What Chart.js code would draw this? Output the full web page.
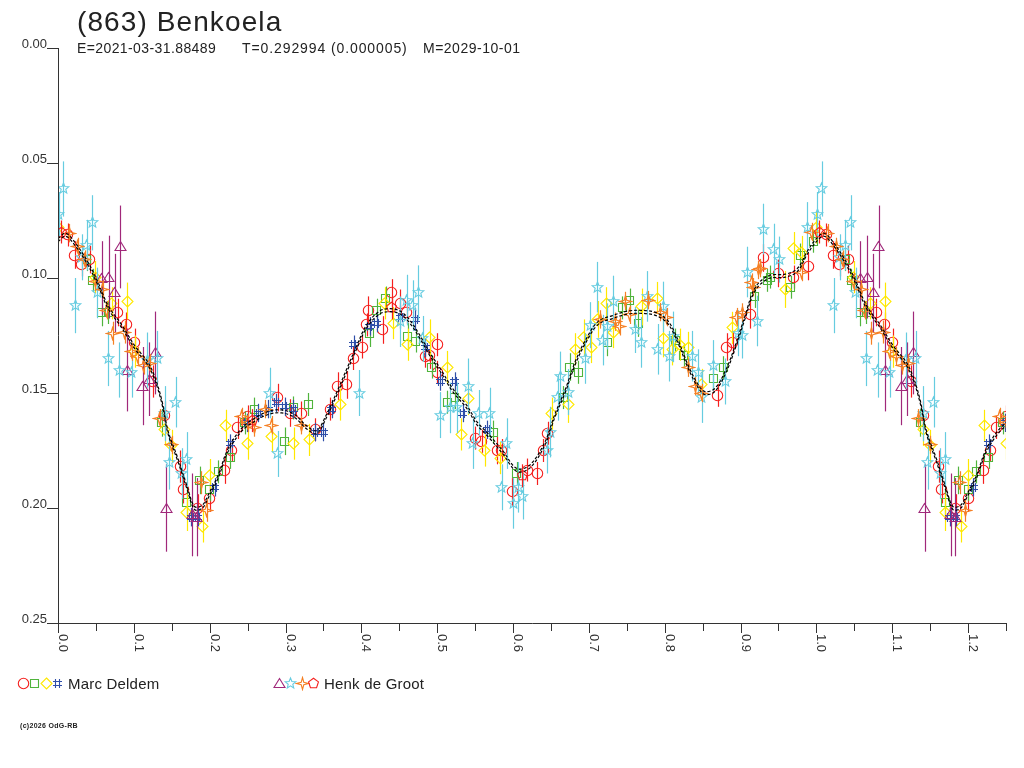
<!DOCTYPE html>
<html>
<head>
<meta charset="utf-8">
<title>(863) Benkoela</title>
<script src="https://cdn.jsdelivr.net/npm/chart.js@4.4.1/dist/chart.umd.min.js"></script>
<style>
  html, body { margin: 0; padding: 0; background: #fff; }
  canvas { display: block; }
</style>
</head>
<body>
<canvas id="chart" width="1024" height="768"></canvas>
<script>
// phase / reduced magnitude / error
const circPhase = [0.013,0.022,0.031,0.042,0.079,0.090,0.101,0.125,0.141,0.161,0.165,0.184,0.200,0.220,0.229,0.237,0.250,0.290,0.306,0.321,0.339,0.359,0.369,0.381,0.389,0.401,0.407,0.409,0.428,0.440,0.451,0.460,0.484,0.490,0.500,0.500,0.550,0.559,0.579,0.585,0.599,0.619,0.632,0.640,0.646,0.870,0.882,0.890,0.913,0.930,0.950,0.970,0.989];
const circMag   = [0.0813,0.090,0.0943,0.092,0.115,0.120,0.128,0.145,0.1596,0.182,0.192,0.200,0.1957,0.1835,0.175,0.165,0.1604,0.152,0.1587,0.1587,0.166,0.157,0.147,0.1465,0.135,0.130,0.1204,0.114,0.1226,0.1065,0.111,0.115,0.134,0.1335,0.129,0.141,0.1696,0.171,0.175,0.175,0.193,0.1835,0.185,0.175,0.1675,0.151,0.130,0.128,0.116,0.0913,0.098,0.0996,0.095];
const circErr   = [0.005,0.006,0.005,0.006,0.006,0.005,0.006,0.007,0.006,0.007,0.006,0.006,0.006,0.006,0.005,0.005,0.005,0.006,0.006,0.005,0.005,0.005,0.006,0.006,0.005,0.005,0.005,0.006,0.006,0.006,0.006,0.005,0.005,0.006,0.005,0.005,0.005,0.005,0.006,0.005,0.006,0.005,0.005,0.005,0.005,0.005,0.006,0.005,0.006,0.006,0.006,0.005,0.006];

const sqPhase = [0.038,0.046,0.058,0.066,0.137,0.170,0.187,0.200,0.211,0.227,0.246,0.259,0.299,0.310,0.330,0.411,0.420,0.432,0.461,0.472,0.493,0.513,0.523,0.574,0.605,0.666,0.675,0.686,0.724,0.744,0.754,0.765,0.814,0.825,0.864,0.877,0.919,0.935,0.939,0.966,0.979,0.996];
const sqMag   = [0.092,0.101,0.115,0.115,0.163,0.1974,0.188,0.192,0.1843,0.178,0.163,0.157,0.171,0.1565,0.155,0.124,0.114,0.1087,0.1256,0.1274,0.1387,0.154,0.152,0.167,0.185,0.152,0.1387,0.141,0.128,0.113,0.1096,0.1196,0.127,0.1335,0.1435,0.139,0.108,0.101,0.0996,0.104,0.090,0.084];
const sqErr   = [0.005,0.005,0.006,0.005,0.006,0.006,0.006,0.005,0.005,0.005,0.005,0.005,0.006,0.005,0.005,0.006,0.005,0.005,0.006,0.005,0.005,0.005,0.005,0.005,0.005,0.005,0.006,0.005,0.006,0.005,0.005,0.006,0.005,0.005,0.005,0.005,0.005,0.005,0.005,0.005,0.005,0.005];

const diaPhase = [0.000,0.049,0.071,0.091,0.101,0.141,0.150,0.170,0.191,0.200,0.221,0.250,0.282,0.311,0.331,0.372,0.431,0.442,0.461,0.490,0.513,0.532,0.541,0.563,0.583,0.651,0.673,0.682,0.693,0.703,0.712,0.723,0.732,0.770,0.790,0.798,0.810,0.820,0.831,0.849,0.889,0.959,0.970,0.981];
const diaMag   = [0.078,0.0996,0.111,0.110,0.132,0.166,0.173,0.202,0.208,0.1857,0.1643,0.172,0.1687,0.172,0.1704,0.155,0.111,0.1196,0.129,0.126,0.1387,0.168,0.1526,0.175,0.1783,0.159,0.155,0.131,0.126,0.130,0.118,0.111,0.1235,0.1126,0.1087,0.1265,0.131,0.129,0.1304,0.1465,0.1217,0.105,0.087,0.0887];
const diaErr   = [0.007,0.007,0.007,0.008,0.007,0.007,0.007,0.008,0.007,0.007,0.007,0.007,0.007,0.007,0.007,0.007,0.007,0.007,0.007,0.008,0.007,0.007,0.007,0.007,0.007,0.007,0.008,0.007,0.008,0.007,0.008,0.007,0.007,0.008,0.007,0.008,0.007,0.007,0.007,0.007,0.007,0.008,0.007,0.007];

const hashPhase = [0.176,0.184,0.207,0.227,0.249,0.264,0.277,0.288,0.299,0.310,0.339,0.350,0.361,0.390,0.411,0.420,0.451,0.471,0.484,0.504,0.523,0.534,0.566];
const hashMag   = [0.204,0.204,0.191,0.172,0.163,0.1587,0.157,0.1543,0.156,0.157,0.167,0.167,0.157,0.129,0.121,0.1196,0.117,0.118,0.1304,0.145,0.145,0.1587,0.166];
const hashErr   = [0.004,0.004,0.004,0.004,0.004,0.004,0.004,0.004,0.004,0.004,0.004,0.004,0.004,0.004,0.004,0.004,0.005,0.005,0.004,0.004,0.004,0.004,0.004];

const triPhase = [0.058,0.067,0.075,0.082,0.091,0.112,0.120,0.128,0.143,0.177,0.183];
const triMag   = [0.100,0.0996,0.1065,0.0865,0.140,0.147,0.144,0.1326,0.200,0.203,0.204];
const triErr   = [0.016,0.018,0.017,0.018,0.018,0.017,0.016,0.018,0.019,0.018,0.017];

const starPhase = [0.001,0.007,0.023,0.031,0.038,0.045,0.052,0.066,0.081,0.097,0.118,0.131,0.141,0.147,0.155,0.163,0.170,0.279,0.290,0.397,0.451,0.460,0.468,0.475,0.481,0.504,0.517,0.526,0.541,0.547,0.555,0.569,0.585,0.592,0.600,0.607,0.613,0.645,0.649,0.659,0.662,0.673,0.695,0.702,0.711,0.718,0.724,0.732,0.761,0.769,0.777,0.791,0.798,0.806,0.811,0.836,0.844,0.849,0.864,0.880,0.897,0.902,0.909,0.922,0.930,0.944,0.951,0.988];
const starMag   = [0.0726,0.0613,0.112,0.091,0.0857,0.076,0.1065,0.135,0.140,0.141,0.1357,0.135,0.159,0.180,0.154,0.185,0.179,0.150,0.1765,0.150,0.119,0.1096,0.112,0.1065,0.1265,0.1596,0.1565,0.1565,0.147,0.172,0.1587,0.1587,0.191,0.172,0.198,0.191,0.195,0.175,0.167,0.152,0.143,0.1496,0.135,0.1205,0.104,0.127,0.121,0.110,0.1226,0.128,0.108,0.131,0.1126,0.134,0.1256,0.134,0.141,0.152,0.138,0.145,0.124,0.125,0.0974,0.1187,0.0787,0.0874,0.092,0.078];
const starErr   = [0.010,0.012,0.012,0.010,0.011,0.012,0.011,0.012,0.012,0.011,0.012,0.012,0.012,0.012,0.011,0.011,0.012,0.011,0.010,0.010,0.011,0.011,0.011,0.012,0.010,0.010,0.011,0.011,0.012,0.011,0.010,0.011,0.010,0.011,0.011,0.011,0.010,0.010,0.011,0.010,0.011,0.010,0.011,0.010,0.011,0.011,0.010,0.011,0.010,0.011,0.011,0.011,0.011,0.011,0.011,0.011,0.010,0.011,0.011,0.010,0.010,0.010,0.011,0.011,0.011,0.011,0.010,0.011];

const crossPhase = [0.015,0.026,0.035,0.049,0.059,0.064,0.072,0.088,0.097,0.105,0.113,0.121,0.134,0.150,0.189,0.196,0.242,0.250,0.259,0.273,0.282,0.321,0.715,0.735,0.741,0.748,0.754,0.778,0.794,0.803,0.831,0.840,0.849,0.895,0.902,0.915,0.917,0.923,0.926,0.981,0.994];
const crossMag   = [0.0805,0.0865,0.092,0.1017,0.105,0.114,0.124,0.1235,0.132,0.134,0.138,0.137,0.161,0.1726,0.189,0.201,0.1604,0.163,0.165,0.157,0.164,0.164,0.118,0.119,0.121,0.110,0.116,0.1096,0.1148,0.117,0.139,0.147,0.150,0.117,0.115,0.102,0.104,0.0965,0.0957,0.0974,0.080];
const crossErr   = [0.004,0.004,0.004,0.004,0.004,0.004,0.005,0.005,0.004,0.004,0.004,0.004,0.004,0.004,0.005,0.005,0.004,0.004,0.004,0.004,0.004,0.004,0.004,0.004,0.004,0.004,0.004,0.004,0.004,0.004,0.004,0.004,0.004,0.004,0.004,0.004,0.004,0.004,0.004,0.004,0.004];

const pentPhase = [0.004,0.256,0.440,0.612];
const pentMag   = [0.080,0.162,0.113,0.186];
const pentErr   = [0.005,0.005,0.005,0.005];

// fitted lightcurve
const modelPhase = [0.000,0.010,0.022,0.039,0.052,0.066,0.084,0.101,0.118,0.128,0.137,0.145,0.158,0.171,0.180,0.190,0.198,0.211,0.224,0.242,0.259,0.277,0.295,0.312,0.328,0.341,0.354,0.368,0.381,0.394,0.407,0.424,0.438,0.451,0.464,0.477,0.490,0.504,0.521,0.539,0.552,0.569,0.587,0.605,0.622,0.642,0.655,0.669,0.682,0.695,0.712,0.731,0.752,0.774,0.791,0.805,0.818,0.831,0.844,0.853,0.866,0.880,0.893,0.906,0.919,0.937,0.959,0.975,0.988];
const modelMag   = [0.0835,0.0812,0.0850,0.0935,0.1020,0.1126,0.1210,0.1300,0.1370,0.1440,0.1540,0.1670,0.1790,0.1920,0.2000,0.1995,0.1950,0.1865,0.1750,0.1660,0.1617,0.1587,0.1580,0.1600,0.1650,0.1670,0.1600,0.1500,0.1400,0.1300,0.1210,0.1150,0.1140,0.1150,0.1190,0.1255,0.1330,0.1400,0.1490,0.1560,0.1630,0.1690,0.1760,0.1835,0.1820,0.1720,0.1600,0.1490,0.1370,0.1280,0.1196,0.1170,0.1150,0.1148,0.1160,0.1196,0.1280,0.1387,0.1470,0.1500,0.1487,0.1410,0.1300,0.1170,0.1050,0.0996,0.0990,0.0965,0.0890];

const xTicks = ["0.0","0.1","0.2","0.3","0.4","0.5","0.6","0.7","0.8","0.9","1.0","1.1","1.2"];
const yTicks = ["0.00","0.05","0.10","0.15","0.20","0.25"];

const RED = "#f5201e", GREEN = "#50b43c", YELLOW = "#ffe800", BLUE = "#2f4ea8";
const PURPLE = "#a0287a", CYAN = "#66cce0", ORANGE = "#f58025";
const FONT = "'Liberation Sans', Arial, sans-serif";

function makeMarker(kind, color) {
  const c = document.createElement("canvas");
  c.width = 15; c.height = 15;
  const g = c.getContext("2d");
  g.strokeStyle = color;
  g.lineWidth = 1.1;
  g.translate(7.5, 7.5);
  g.beginPath();
  if (kind === "circle") {
    g.arc(0, 0, 5.2, 0, Math.PI * 2);
  } else if (kind === "square") {
    g.rect(-4, -4, 8, 8);
  } else if (kind === "diamond") {
    g.moveTo(0, -5.5); g.lineTo(5.5, 0); g.lineTo(0, 5.5); g.lineTo(-5.5, 0); g.closePath();
  } else if (kind === "hash") {
    g.moveTo(-4.5, -2); g.lineTo(4.5, -2);
    g.moveTo(-4.5, 2); g.lineTo(4.5, 2);
    g.moveTo(-2, -4.5); g.lineTo(-2, 4.5);
    g.moveTo(2, -4.5); g.lineTo(2, 4.5);
  } else if (kind === "triangle") {
    g.moveTo(0, -5); g.lineTo(5.5, 4); g.lineTo(-5.5, 4); g.closePath();
  } else if (kind === "star5" || kind === "star4" || kind === "pentagon") {
    const n = kind === "star4" ? 4 : 5;
    const steps = kind === "pentagon" ? n : n * 2;
    for (let i = 0; i < steps; i++) {
      let r = 5.2;
      if (kind === "star5") r = i % 2 ? 2.4 : 5.5;
      if (kind === "star4") r = i % 2 ? 1.8 : 6;
      const a = -Math.PI / 2 + i * Math.PI * 2 / steps;
      const px = r * Math.cos(a), py = r * Math.sin(a);
      if (i === 0) g.moveTo(px, py); else g.lineTo(px, py);
    }
    g.closePath();
  }
  g.stroke();
  return c;
}

// repeat the first quarter of the cycle after phase 1.0, as the plot runs to 1.25
function wrapPts(ph, mg) {
  const pts = ph.map((p, i) => ({ x: p, y: mg[i] }));
  ph.forEach((p, i) => { if (p <= 0.26) pts.push({ x: p + 1, y: mg[i] }); });
  return pts;
}
function wrapErr(ph, er) {
  const out = er.slice();
  ph.forEach((p, i) => { if (p <= 0.26) out.push(er[i]); });
  return out;
}

const series = [
  { ph: circPhase, mg: circMag, er: circErr, color: RED, shape: "circle" },
  { ph: sqPhase, mg: sqMag, er: sqErr, color: GREEN, shape: "square" },
  { ph: diaPhase, mg: diaMag, er: diaErr, color: YELLOW, shape: "diamond" },
  { ph: hashPhase, mg: hashMag, er: hashErr, color: BLUE, shape: "hash" },
  { ph: triPhase, mg: triMag, er: triErr, color: PURPLE, shape: "triangle" },
  { ph: starPhase, mg: starMag, er: starErr, color: CYAN, shape: "star5" },
  { ph: crossPhase, mg: crossMag, er: crossErr, color: ORANGE, shape: "star4" },
  { ph: pentPhase, mg: pentMag, er: pentErr, color: RED, shape: "pentagon" }
];

const markers = {};
series.forEach(s => { markers[s.shape] = makeMarker(s.shape, s.color); });

const modelPts = wrapPts(modelPhase, modelMag);
const datasets = [
  { type: "line", data: modelPts, borderColor: "#000", borderWidth: 1.2, borderDash: [3, 2],
    pointRadius: 0, tension: 0.35, shiftY: -1.5, order: 0 },
  { type: "line", data: modelPts, borderColor: "#000", borderWidth: 1.2, borderDash: [3, 2],
    pointRadius: 0, tension: 0.35, shiftY: 1.5, order: 0 }
];
// observers drawn in reverse so the first session ends up on top
series.slice().reverse().forEach((s, k) => {
  datasets.push({
    type: "scatter",
    data: wrapPts(s.ph, s.mg),
    errors: wrapErr(s.ph, s.er),
    borderColor: s.color,
    pointStyle: markers[s.shape],
    pointRadius: 5,
    order: 1 + k
  });
});

const errorBars = {
  id: "errorBars",
  beforeDatasetDraw(chart, args) {
    const ds = chart.data.datasets[args.index];
    const ctx = chart.ctx;
    ctx.save();
    ctx.imageSmoothingEnabled = false;
    if (ds.shiftY) ctx.translate(0, ds.shiftY);
    if (!ds.errors) return;
    const { x, y } = chart.scales;
    const a = chart.chartArea;
    ctx.save();
    ctx.beginPath();
    ctx.rect(a.left, a.top, a.right - a.left, a.bottom - a.top);
    ctx.clip();
    ctx.strokeStyle = ds.borderColor;
    ctx.lineWidth = 1.2;
    ds.data.forEach((p, i) => {
      const px = Math.round(x.getPixelForValue(p.x)) + 0.5;
      ctx.beginPath();
      ctx.moveTo(px, y.getPixelForValue(p.y - ds.errors[i]));
      ctx.lineTo(px, y.getPixelForValue(p.y + ds.errors[i]));
      ctx.stroke();
    });
    ctx.restore();
  },
  afterDatasetDraw(chart) {
    chart.ctx.restore();
  }
};

const frame = {
  id: "frame",
  afterDraw(chart) {
    const { ctx, scales: { x, y }, chartArea: a } = chart;
    ctx.save();
    ctx.strokeStyle = "#333";
    ctx.fillStyle = "#333";
    ctx.lineWidth = 1;
    ctx.beginPath();
    ctx.moveTo(a.left + 0.5, a.top);
    ctx.lineTo(a.left + 0.5, a.bottom + 0.5);
    ctx.lineTo(a.right, a.bottom + 0.5);
    ctx.stroke();

    ctx.font = "13px " + FONT;
    ctx.textAlign = "right";
    ctx.textBaseline = "alphabetic";
    yTicks.forEach(t => {
      const py = Math.round(y.getPixelForValue(parseFloat(t))) + 0.5;
      ctx.beginPath();
      ctx.moveTo(a.left - 11, py);
      ctx.lineTo(a.left, py);
      ctx.stroke();
      ctx.fillText(t, a.left - 11, py - 1);
    });

    for (let i = 0; i <= 25; i++) {
      const px = Math.round(x.getPixelForValue(i * 0.05)) + 0.5;
      ctx.beginPath();
      ctx.moveTo(px, a.bottom);
      ctx.lineTo(px, a.bottom + (i % 2 ? 8 : 10));
      ctx.stroke();
    }
    ctx.textAlign = "left";
    xTicks.forEach(t => {
      const px = Math.round(x.getPixelForValue(parseFloat(t)));
      ctx.save();
      ctx.translate(px + 1, a.bottom + 11);
      ctx.rotate(Math.PI / 2);
      ctx.fillText(t, 0, 0);
      ctx.restore();
    });

    // title block
    ctx.fillStyle = "#222";
    ctx.font = "28px " + FONT;
    ctx.letterSpacing = "1.1px";
    ctx.fillText("(863) Benkoela", 77, 31);
    ctx.font = "14px " + FONT;
    ctx.letterSpacing = "0.4px";
    ctx.fillText("E=2021-03-31.88489", 77, 53);
    ctx.letterSpacing = "0.9px";
    ctx.fillText("T=0.292994 (0.000005)", 242, 53);
    ctx.letterSpacing = "0.5px";
    ctx.fillText("M=2029-10-01", 423, 53);
    ctx.letterSpacing = "0px";

    // legend
    const legendY = 683;
    [["circle", 23], ["square", 34], ["diamond", 46], ["hash", 57]].forEach(([k, lx]) => {
      ctx.drawImage(markers[k], lx - 7, legendY - 7);
    });
    [["triangle", 279], ["star5", 290], ["star4", 302], ["pentagon", 313]].forEach(([k, lx]) => {
      ctx.drawImage(markers[k], lx - 7, legendY - 7);
    });
    ctx.font = "15px " + FONT;
    ctx.letterSpacing = "0.2px";
    ctx.fillText("Marc Deldem", 68, 689);
    ctx.fillText("Henk de Groot", 324, 689);

    ctx.letterSpacing = "0.3px";
    ctx.font = "bold 7px " + FONT;
    ctx.fillText("(c)2026 OdG-RB", 20, 728);
    ctx.restore();
  }
};

new Chart(document.getElementById("chart"), {
  data: { datasets },
  options: {
    responsive: false,
    animation: false,
    events: [],
    layout: { padding: { left: 58, right: 18, top: 48, bottom: 145 } },
    scales: {
      x: { type: "linear", display: false, min: 0, max: 1.25 },
      y: { type: "linear", display: false, min: 0, max: 0.25, reverse: true }
    },
    plugins: { legend: { display: false }, tooltip: { enabled: false } }
  },
  plugins: [errorBars, frame]
});
</script>
</body>
</html>
